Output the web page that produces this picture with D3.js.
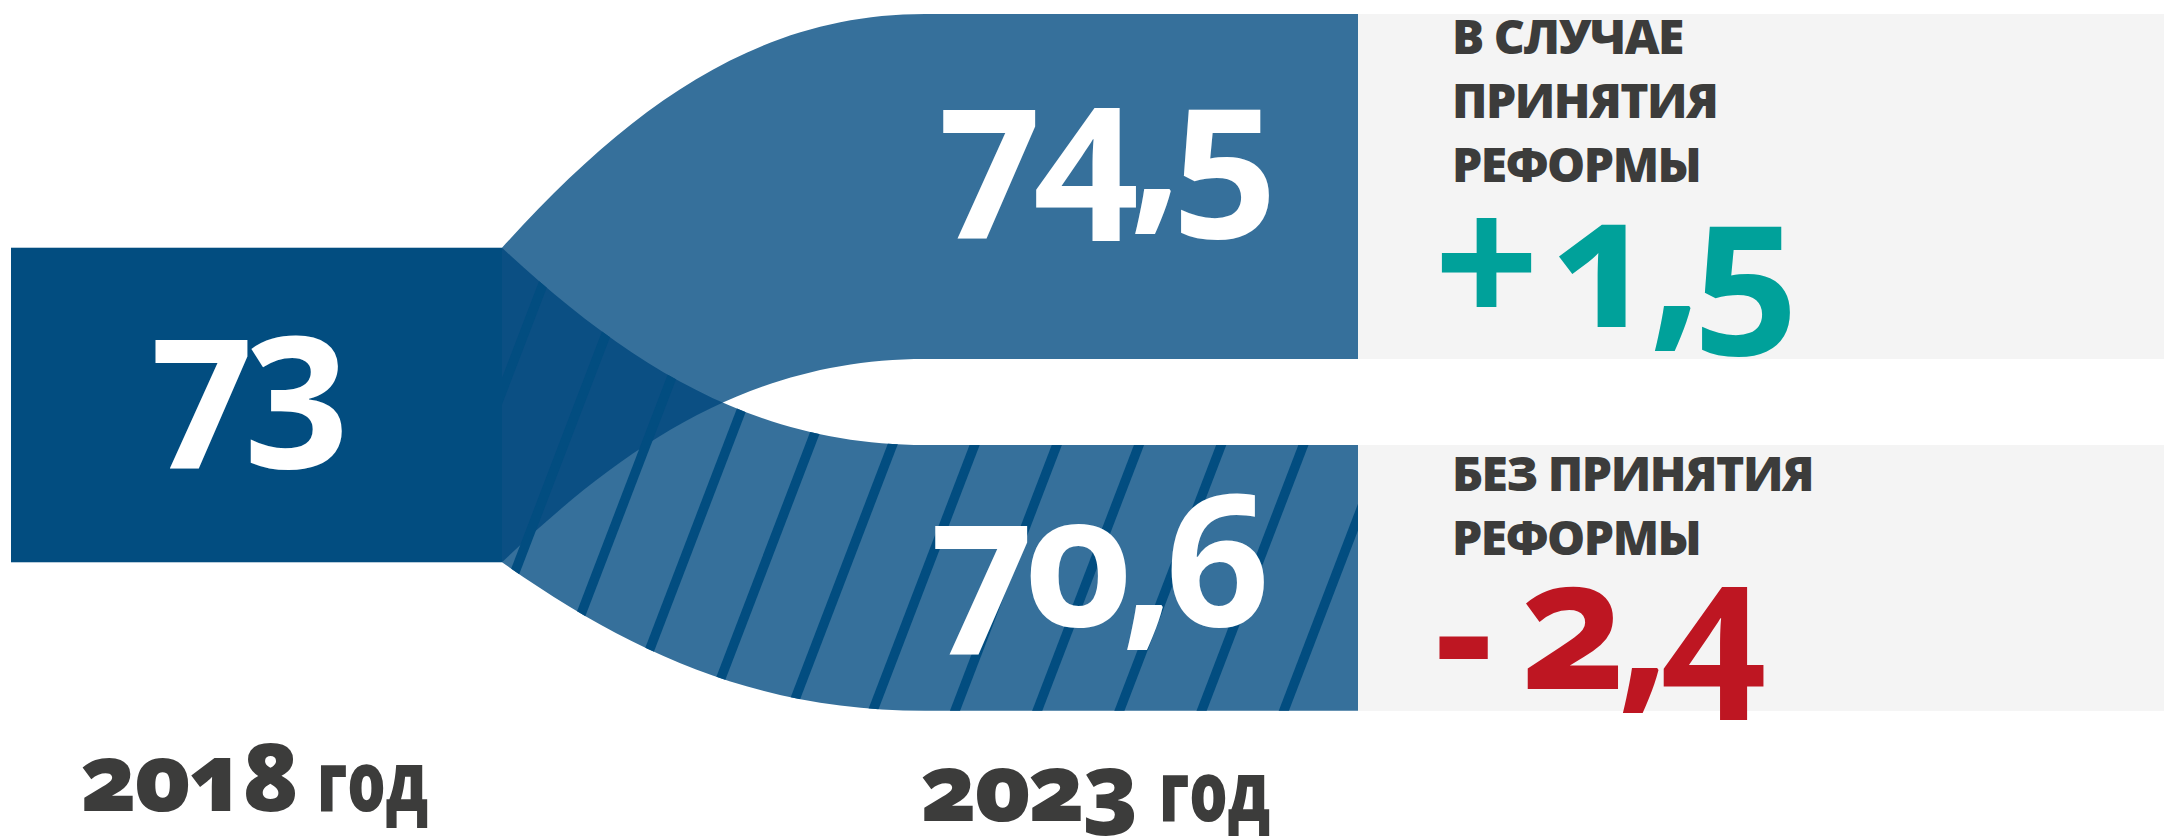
<!DOCTYPE html>
<html lang="ru">

<head>
    <meta charset="utf-8">
    <title>Прогноз 2018–2023</title>
    <script src="https://d3js.org/d3.v7.min.js"></script>
    <style>
        body {
            margin: 0;
            padding: 0;
            overflow: hidden;
            background: #fff;
        }

        text {
            font-family: "Open Sans", "Noto Sans", sans-serif;
        }

        .onum {
            font-variant-numeric: oldstyle-nums;
            font-feature-settings: "onum" 1;
        }
    </style>
</head>

<body>
    <svg id="chart"></svg>

    <script>
        // data
        const years = ["2018 год", "2023 год"];
        const value2018 = 73;
        const values2023 = [74.5, 70.6];
        const changes = [1.5, -2.4];
        const scenarioLines = [
            ["В СЛУЧАЕ", "ПРИНЯТИЯ", "РЕФОРМЫ"],
            ["БЕЗ ПРИНЯТИЯ", "РЕФОРМЫ"]
        ];
        const changeColors = ["#00a19a", "#be1622"];

        const width = 2164;
        const height = 836;

        const ru = d3.formatLocale({ decimal: ",", thousands: " ", grouping: [3], currency: ["", ""] });
        const fmt = v => Number.isInteger(v) ? ru.format("d")(v) : ru.format(".1f")(v);

        const svg = d3.select("#chart")
            .attr("width", width)
            .attr("height", height)
            .attr("viewBox", [0, 0, width, height]);

        // columns: source box, target bars, grey label panels
        const x = d3.scaleOrdinal()
            .domain(["src0", "src1", "tgt0", "tgt1", "end"])
            .range([11, 502, 925, 1358, width]);

        // bar heights (scale does not start at zero)
        const h = d3.scaleLinear().domain([57.5, 74.5]).range([0, 345]);

        const topY = 14, gap = 86, srcCenter = 405;
        const targets = [];
        let yy = topY;
        values2023.forEach((v, i) => {
            targets.push({ value: v, change: changes[i], y0: yy, y1: yy + h(v), i });
            yy += h(v) + gap;
        });
        const src = { y0: srcCenter - h(value2018) / 2, y1: srcCenter + h(value2018) / 2 };

        // edge goes steep out of the box and ends flat at the bar
        function ctrl(p0, p3) {
            const dx = p3[0] - p0[0], dy = p3[1] - p0[1];
            return [[p0[0] + 0.3 * dx, p0[1] + 0.6 * dy], [p3[0] - 0.4 * dx, p3[1]]];
        }

        function bandPath(t) {
            const p = d3.path();
            const a0 = [x("src1"), src.y0], a1 = [x("tgt0"), t.y0];
            const b0 = [x("src1"), src.y1], b1 = [x("tgt0"), t.y1];
            const ca = ctrl(a0, a1), cb = ctrl(b0, b1);
            p.moveTo(...a0);
            p.bezierCurveTo(...ca[0], ...ca[1], ...a1);
            p.lineTo(x("tgt1"), t.y0);
            p.lineTo(x("tgt1"), t.y1);
            p.lineTo(...b1);
            p.bezierCurveTo(...cb[1], ...cb[0], ...b0);
            p.closePath();
            return p.toString();
        }

        const defs = svg.append("defs");
        targets.forEach(t => {
            defs.append("clipPath").attr("id", "band" + t.i)
                .append("path").attr("d", bandPath(t));
        });

        // grey panels
        svg.append("g").selectAll("rect")
            .data(targets)
            .join("rect")
            .attr("x", x("tgt1"))
            .attr("y", d => d.y0)
            .attr("width", x("end") - x("tgt1"))
            .attr("height", d => d.y1 - d.y0)
            .attr("fill", "#f4f4f4");

        // 2018 box
        svg.append("rect")
            .attr("x", x("src0"))
            .attr("y", src.y0)
            .attr("width", x("src1") - x("src0"))
            .attr("height", src.y1 - src.y0)
            .attr("fill", "#024d80");

        // bands, bottom first
        svg.append("g").selectAll("path")
            .data(targets.slice().reverse())
            .join("path")
            .attr("d", bandPath)
            .attr("fill", "#36709b");

        // where the two bands overlap
        svg.append("path")
            .attr("d", bandPath(targets[1]))
            .attr("clip-path", "url(#band0)")
            .attr("fill", "#0b4f83");

        // hatching on the "no reform" band
        const step = 82.2, slope = 0.383, x0 = 975, y0 = 444;
        svg.append("g")
            .attr("clip-path", "url(#band1)")
            .selectAll("line")
            .data(d3.range(-8, 8))
            .join("line")
            .attr("x1", k => x0 + k * step + slope * y0)
            .attr("y1", 0)
            .attr("x2", k => x0 + k * step - slope * (height - y0))
            .attr("y2", height)
            .attr("stroke", "#024d80")
            .attr("stroke-width", 9.5);

        // big numbers
        svg.append("text")
            .attr("class", "onum")
            .attr("x", (x("src0") + x("src1")) / 2 - 11)
            .attr("y", 440)
            .attr("text-anchor", "middle")
            .attr("font-size", 184)
            .attr("font-weight", 700)
            .attr("letter-spacing", -10)
            .attr("fill", "#fff")
            .text(fmt(value2018));

        const baseDy = [196, 181];
        const leftPad = [12, 4];
        svg.append("g").selectAll("text")
            .data(targets)
            .join("text")
            .attr("class", "onum")
            .attr("x", d => x("tgt0") + leftPad[d.i])
            .attr("y", d => d.y0 + baseDy[d.i])
            .attr("font-size", 184)
            .attr("font-weight", 700)
            .attr("letter-spacing", -10)
            .attr("fill", "#fff")
            .text(d => fmt(d.value));

        // change values in the grey panels
        const chg = svg.append("g").selectAll("text")
            .data(targets)
            .join("text")
            .attr("class", "onum")
            .attr("y", d => d.y0 + [313, 244][d.i])
            .attr("font-size", 184)
            .attr("font-weight", 700)
            .attr("letter-spacing", -9)
            .attr("fill", d => changeColors[d.i]);
        chg.append("tspan")
            .attr("x", 1434)
            .attr("dy", d => d.change > 0 ? 0 : 8)
            .text(d => d.change > 0 ? "+" : "-");
        chg.append("tspan")
            .attr("x", d => d.change > 0 ? 1552 : 1520)
            .attr("dy", d => d.change > 0 ? 0 : -8)
            .text(d => fmt(Math.abs(d.change)));

        // scenario labels
        const lblBase = [40, 46];
        svg.append("g").selectAll("g")
            .data(targets)
            .join("g")
            .selectAll("text")
            .data(d => scenarioLines[d.i].map((s, j) => ({ s, j, t: d })))
            .join("text")
            .attr("x", 1452)
            .attr("y", d => d.t.y0 + lblBase[d.t.i] + d.j * 64)
            .attr("font-size", 48)
            .attr("font-weight", 800)
            .attr("letter-spacing", -1.5)
            .attr("fill", "#3c3c3b")
            .text(d => d.s);

        // year captions: number and a narrow "год"
        const yearPos = [{ x: 80, y: 811, wx: 317 }, { x: 920, y: 821, wx: 1159 }];
        const yearG = svg.append("g").selectAll("g")
            .data(years)
            .join("g")
            .attr("fill", "#3c3c3b")
            .attr("font-weight", 800);
        yearG.append("text")
            .attr("class", "onum")
            .attr("x", (d, i) => yearPos[i].x)
            .attr("y", (d, i) => yearPos[i].y)
            .attr("font-size", 94)
            .attr("letter-spacing", -3)
            .text(d => d.split(" ")[0]);
        yearG.append("text")
            .attr("transform", (d, i) => `translate(${yearPos[i].wx},${yearPos[i].y}) scale(0.72,1)`)
            .attr("font-size", 84)
            .text(d => d.split(" ")[1]);
    </script>
</body>

</html>
